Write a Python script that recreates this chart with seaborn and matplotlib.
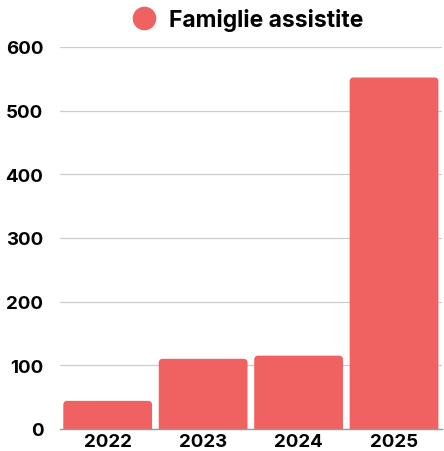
import matplotlib
matplotlib.use("Agg")
import matplotlib.pyplot as plt
from matplotlib.patches import FancyBboxPatch
from matplotlib.lines import Line2D
import seaborn as sns
import pandas as pd

# --- Data ---
years = ["2022", "2023", "2024", "2025"]
famiglie = [44, 110, 115, 552]
series_name = "Famiglie assistite"
bar_color = "#F06262"

df = pd.DataFrame({"anno": years, "famiglie": famiglie})

sns.set_theme(style="white")
plt.rcParams["font.family"] = ["Inter", "DejaVu Sans"]

fig = plt.figure(figsize=(4.44, 4.52), dpi=100)
ax = fig.add_axes([0.135, 0.049, 0.86, 0.845])

sns.barplot(data=df, x="anno", y="famiglie", color=bar_color, width=0.93,
            saturation=1, ax=ax, zorder=2)

ax.set_ylim(0, 600)
ax.set_xlim(-0.5, 3.5)

# swap plain bars for rounded ones, same geometry
fig.canvas.draw()
bbox = ax.get_window_extent()
ux = 4.0 / bbox.width
uy = 600.0 / bbox.height
r = 4 * ux
for p in list(ax.patches):
    x0, w, h = p.get_x(), p.get_width(), p.get_height()
    p.remove()
    ry = r * uy / ux
    box = FancyBboxPatch((x0, -ry), w, h + ry,
                         boxstyle=f"round,pad=0,rounding_size={r}",
                         mutation_aspect=uy / ux, facecolor=bar_color,
                         edgecolor="none", zorder=2)
    ax.add_patch(box)

ax.set_yticks([0, 100, 200, 300, 400, 500, 600])
ax.yaxis.grid(True, color="#cccccc", linewidth=0.9, zorder=0)
ax.set_axisbelow(True)
for s in ["top", "right", "left"]:
    ax.spines[s].set_visible(False)
ax.spines["bottom"].set_color("#999999")
ax.spines["bottom"].set_linewidth(1.0)
ax.spines["bottom"].set_zorder(3)
ax.tick_params(axis="both", length=0, labelsize=13.5, colors="black")
ax.tick_params(axis="y", pad=12)
ax.tick_params(axis="x", pad=3)
for lab in ax.get_xticklabels() + ax.get_yticklabels():
    lab.set_fontweight("bold")
ax.set_xlabel("")
ax.set_ylabel("")

handle = Line2D([], [], marker="o", linestyle="none", markersize=17,
                markerfacecolor=bar_color, markeredgecolor="none")
fig.legend([handle], [series_name], loc="center", bbox_to_anchor=(0.545, 0.955),
           frameon=False, handletextpad=0.1, labelcolor="black",
           prop={"weight": "bold", "size": 16.5, "family": ["Inter", "DejaVu Sans"]})

fig.savefig("out.png", dpi=100)
